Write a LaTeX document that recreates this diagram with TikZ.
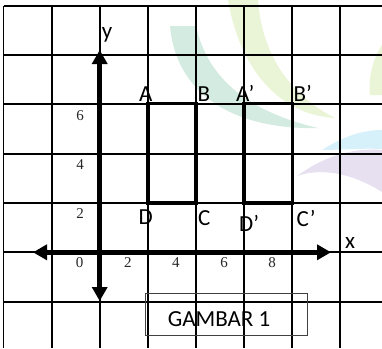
\documentclass[tikz,border=0pt]{standalone}
\usepackage{fontspec}
\setmainfont{Carlito}
\newfontfamily\numfont{Liberation Serif}
\usetikzlibrary{arrows.meta}
\usetikzlibrary{positioning}
\definecolor{wmteal}{HTML}{D3EBE0}
\definecolor{wmlime}{HTML}{EAF4D6}
\definecolor{wmblue}{HTML}{D6F1FA}
\definecolor{wmlilac}{HTML}{E6E0F1}

\begin{document}
\begin{tikzpicture}
			[
			x=1pt, y=-1pt,
			font=\fontsize{23}{26}\selectfont
			]
			
			% Styles
			\tikzstyle{grid line}=[draw=black,line width=1.9pt];
			\tikzstyle{axis line}=[draw=black,line width=4.6pt,{Triangle[length=14pt,width=15pt]}-{Triangle[length=14pt,width=15pt]}];
			\tikzstyle{shape line}=[draw=black,line width=3.6pt,line join=miter];
			\tikzstyle{num}=[font=\numfont\fontsize{15}{17}\selectfont,text=black!85,inner sep=0];
			\tikzstyle{corner}=[anchor=base,inner sep=0];
			\tikzstyle{corner w}=[anchor=base west,inner sep=0];
			
			\useasboundingbox (0,0) rectangle (382,348);
			
			% Faint logo in the background
			\fill[wmteal] (170,26) .. controls (176,95) and (235,130) .. (318,128)
				.. controls (250,112) and (208,80) .. (196,26) -- cycle;
			\fill[wmlime] (228,0) .. controls (240,70) and (280,115) .. (335,118)
				.. controls (290,95) and (262,55) .. (258,0) -- cycle;
			\fill[wmlime] (382,45) .. controls (372,60) and (368,80) .. (370,95) -- (382,95) -- cycle;
			\fill[wmblue] (322,150) .. controls (345,135) and (365,130) .. (382,130) -- (382,149) .. controls (360,148) and (340,150) .. (322,150) -- cycle;
			\fill[wmlilac] (297,176) .. controls (330,152) and (360,148) .. (382,150) -- (382,192)
				.. controls (350,172) and (320,168) .. (297,176) -- cycle;
			
			% Grid
			\foreach \i in {0,...,7} \draw[grid line]({3.5+48.1*\i},5.7)--({3.5+48.1*\i},348);
			\foreach \i in {0,...,6} \draw[grid line](3.5,{5.7+49.33*\i})--(382,{5.7+49.33*\i});
			
			% Axes
			\coordinate(xl)at(33,252.3);
			\coordinate(xr)at(331,252.3);
			\coordinate(yt)at(99.7,50);
			\coordinate(yb)at(99.7,301);
			\draw[axis line](xl)--(xr);
			\draw[axis line](yb)--(yt);
			\node(xlab)[corner w,xshift=14,yshift=4]at(xr){x};
			\node(ylab)[corner w,xshift=2,yshift=12]at(yt){y};
			
			% Numbers on the axes
			\foreach \v [count=\k] in {0,2,4,6,8} \node(nx\v)[num]at({3.5+48.1*(\k+1)-20},263){\v};
			\foreach \v [count=\k] in {2,4,6} \node(ny\v)[num]at(80,{5.7+49.33*(5-\k)+11}){\v};
			
			% Rectangle ABCD
			\coordinate(A)at(147.8,103.3);
			\coordinate(B)at(195.9,103.3);
			\coordinate(C)at(195.9,202.7);
			\coordinate(D)at(147.8,202.7);
			\draw[shape line](A)--(B)--(C)--(D)--cycle;
			
			% Rectangle A'B'C'D'
			\coordinate(Ap)at(244,103.3);
			\coordinate(Bp)at(292.3,103.3);
			\coordinate(Cp)at(292.3,202.7);
			\coordinate(Dp)at(244,202.7);
			\draw[shape line](Ap)--(Bp)--(Cp)--(Dp)--cycle;
			
			% Corner labels
			\node(lA)[corner,xshift=-2,yshift=2]at(A){A};
			\node(lB)[corner,xshift=8,yshift=2]at(B){B};
			\node(lC)[corner w,xshift=2,yshift=-23]at(C){C};
			\node(lD)[corner,xshift=-2,yshift=-22]at(D){D};
			\node(lAp)[corner w,xshift=-8,yshift=2]at(Ap){A’};
			\node(lBp)[corner w,xshift=1,yshift=2]at(Bp){B’};
			\node(lCp)[corner w,xshift=4,yshift=-24]at(Cp){C’};
			\node(lDp)[corner w,xshift=-5,yshift=-29]at(Dp){D’};
			
			% Caption
			\node(gbox)[draw=black!75,line width=0.9pt,minimum width=162pt,minimum height=42pt,inner sep=0]at(226,314){};
			\node(glabel)at(219,319.5){GAMBAR 1};
\end{tikzpicture}
\end{document}
